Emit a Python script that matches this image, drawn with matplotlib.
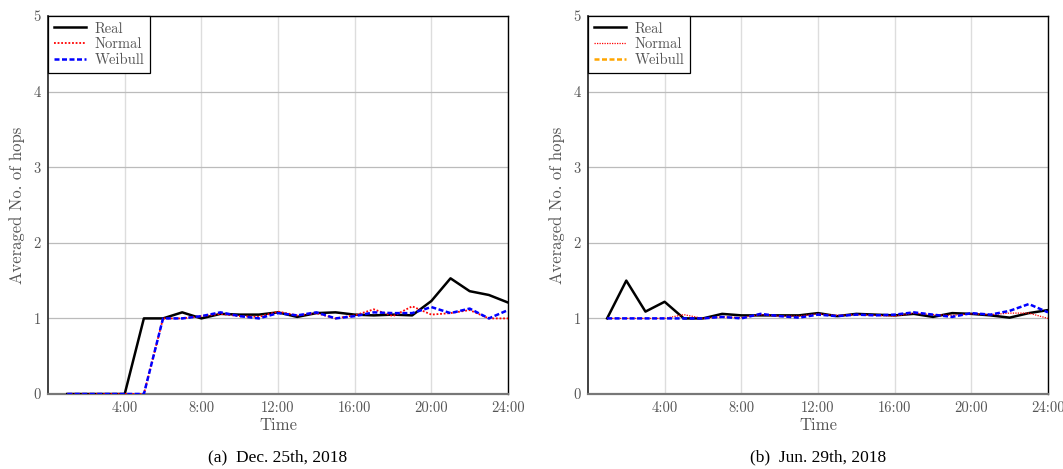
import matplotlib.pyplot as plt

# hours 1..24
hours = list(range(1, 25))

# (a) Dec. 25th, 2018
real_a = [0, 0, 0, 0, 1.0, 1.0, 1.08, 1.0, 1.06, 1.05, 1.05, 1.08, 1.02, 1.07, 1.08, 1.05,
          1.04, 1.05, 1.04, 1.23, 1.53, 1.36, 1.31, 1.21]
normal_a = [0, 0, 0, 0, 0, 1.0, 1.0, 1.03, 1.06, 1.03, 1.02, 1.09, 1.04, 1.07, 1.0, 1.04,
            1.12, 1.03, 1.16, 1.05, 1.07, 1.11, 1.0, 1.0]
weibull_a = [0, 0, 0, 0, 0, 1.0, 1.0, 1.03, 1.08, 1.03, 1.0, 1.07, 1.04, 1.08, 1.0, 1.03,
             1.08, 1.07, 1.07, 1.15, 1.07, 1.13, 1.0, 1.11]

# (b) Jun. 29th, 2018
real_b = [1.0, 1.5, 1.09, 1.22, 1.0, 1.0, 1.06, 1.04, 1.04, 1.04, 1.04, 1.07, 1.03, 1.06,
          1.05, 1.04, 1.06, 1.02, 1.07, 1.06, 1.04, 1.01, 1.07, 1.11]
normal_b = [1.0, 1.0, 1.0, 1.0, 1.05, 1.0, 1.02, 1.01, 1.05, 1.03, 1.03, 1.06, 1.04, 1.05,
            1.04, 1.03, 1.07, 1.05, 1.04, 1.06, 1.05, 1.07, 1.07, 1.0]
weibull_b = [1.0, 1.0, 1.0, 1.0, 1.0, 1.0, 1.02, 1.0, 1.06, 1.03, 1.01, 1.05, 1.03, 1.05,
             1.04, 1.05, 1.08, 1.05, 1.02, 1.07, 1.05, 1.1, 1.19, 1.08]

xticks = [4, 8, 12, 16, 20, 24]
xtick_labels = ["4:00", "8:00", "12:00", "16:00", "20:00", "24:00"]
captions = ["(a)  Dec. 25th, 2018", "(b)  Jun. 29th, 2018"]

fig = plt.figure(figsize=(10.63, 4.69), dpi=100)
ax1 = fig.add_axes([0.0452, 0.1599, 0.4327, 0.8060])
ax2 = fig.add_axes([0.5531, 0.1599, 0.4328, 0.8060])

tfont = "cmr10"
grey = "#555555"

panels = [
    (ax1, real_a, normal_a, weibull_a, 1.3, "blue"),
    (ax2, real_b, normal_b, weibull_b, 0.9, "orange"),
]

for i, (ax, r, n, w, nlw, wleg) in enumerate(panels):
    ax.plot(hours, r, color="black", lw=1.8, zorder=3)
    ax.plot(hours, n, color="red", lw=nlw, linestyle=(0, (1, 1)), zorder=4)
    ax.plot(hours, w, color="blue", lw=1.8, linestyle=(0, (2, 1)), zorder=5)
    ax.set_xlim(0, 24)
    ax.set_ylim(0, 5)
    ax.set_xticks(xticks)
    ax.set_xticklabels(xtick_labels, fontfamily=tfont, fontsize=10.5, color=grey)
    ax.set_yticks([0, 1, 2, 3, 4, 5])
    ax.set_yticklabels(["0", "1", "2", "3", "4", "5"], fontfamily=tfont, fontsize=10.5, color=grey)
    ax.tick_params(length=0, pad=5)
    ax.xaxis.grid(True, color="#dddddd", lw=1)
    ax.yaxis.grid(True, color="#bbbbbb", lw=0.9)
    ax.set_axisbelow(True)
    for s in ["top", "right"]:
        ax.spines[s].set_color("black")
        ax.spines[s].set_linewidth(1.0)
    ax.spines["left"].set_color("#333333")
    ax.spines["bottom"].set_color("#777777")
    ax.spines["left"].set_linewidth(1.3)
    ax.spines["bottom"].set_linewidth(1.6)
    ax.set_xlabel("Time", fontfamily=tfont, fontsize=12, color=grey, labelpad=2)
    ax.set_ylabel("Averaged No. of hops", fontfamily=tfont, fontsize=12, color=grey, labelpad=6)

    # legend handles
    h1, = ax.plot([], [], color="black", lw=1.8)
    h2, = ax.plot([], [], color="red", lw=nlw, linestyle=(0, (1, 1)))
    h3, = ax.plot([], [], color=wleg, lw=1.8, linestyle=(0, (2, 1)))
    leg = ax.legend([h1, h2, h3], ["Real", "Normal", "Weibull"], loc="upper left",
                    bbox_to_anchor=(0, 1), borderaxespad=0, fancybox=False,
                    framealpha=1, edgecolor="black", handlelength=2.2,
                    handletextpad=0.6, labelspacing=0.15, borderpad=0.4,
                    prop={"family": tfont, "size": 10.5})
    leg.get_frame().set_linewidth(0.9)
    for t in leg.get_texts():
        t.set_color(grey)

    ax.text(0.5, -0.167, captions[i], transform=ax.transAxes, ha="center", va="center",
            fontfamily="Liberation Serif", fontsize=12.5, color="black")

fig.savefig("out.png", dpi=100)
